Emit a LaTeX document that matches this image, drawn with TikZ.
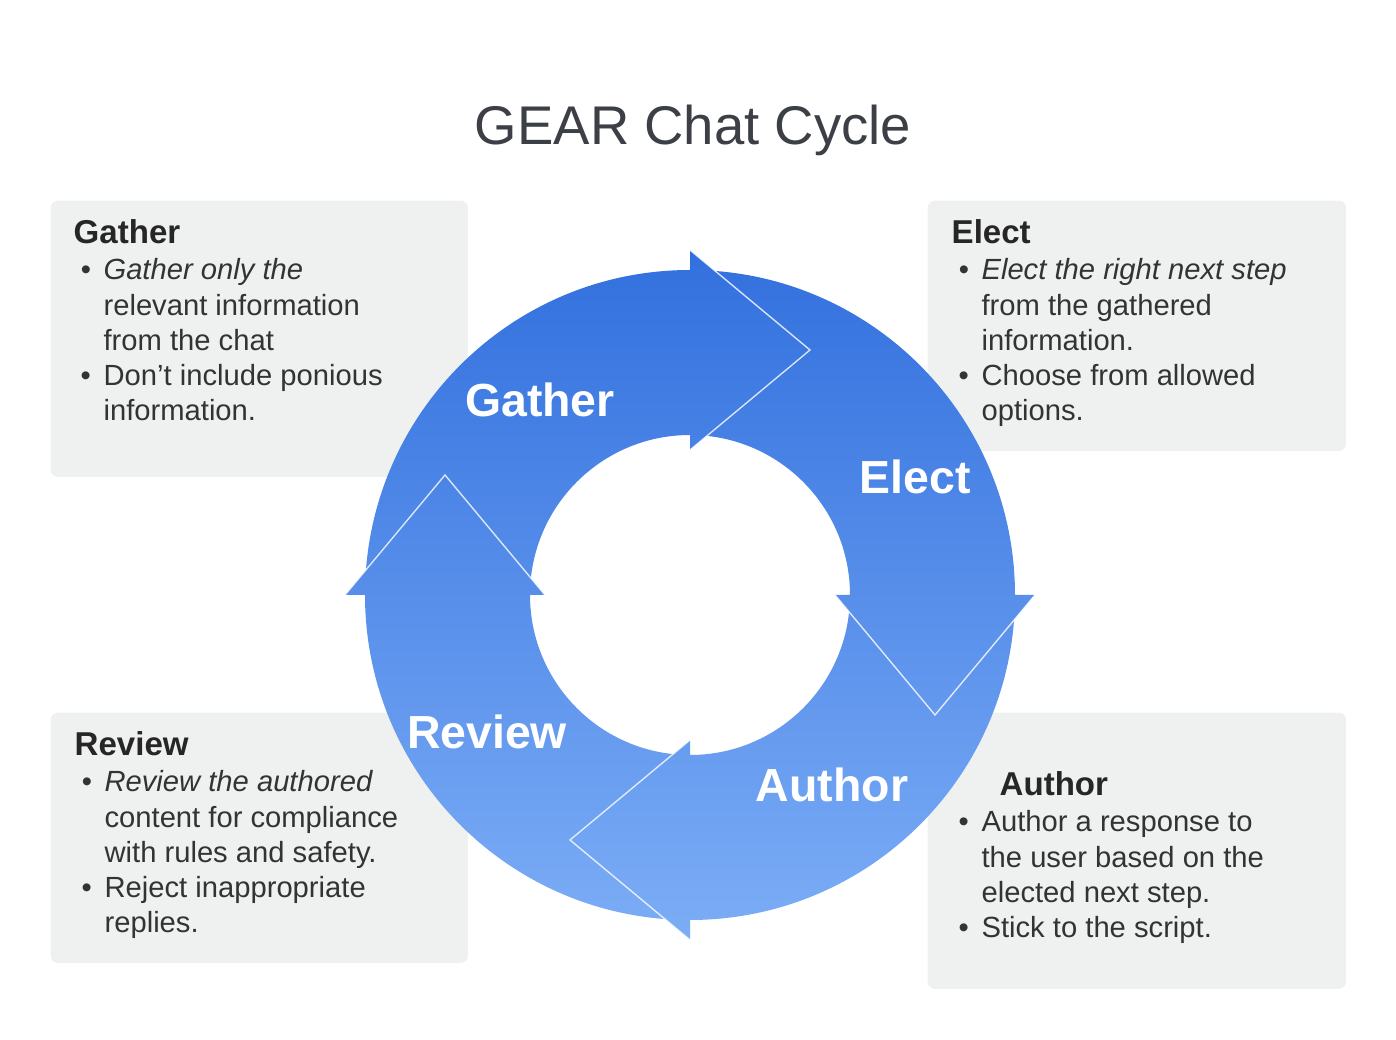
\documentclass[tikz,border=0pt]{standalone}
\usepackage{fontspec}
\setmainfont{Liberation Sans}
\usetikzlibrary{positioning}
\definecolor{ringtop}{RGB}{50, 112, 222}
\definecolor{ringbot}{RGB}{124, 173, 246}
\definecolor{boxgrey}{RGB}{239, 240, 240}
\definecolor{titlegrey}{RGB}{60, 64, 70}
\newcommand{\bl}{\makebox[8.5pt][l]{\hspace{2pt}\textbullet}}
\newcommand{\ind}{\hspace*{8.5pt}}
\begin{document}
\begin{tikzpicture}[x=0.01cm, y=-0.01cm,
    infobox/.style={rectangle, rounded corners=2pt, fill=boxgrey, inner sep=0pt,
                    anchor=north west},
    heading/.style={anchor=base west, inner sep=0pt, text=black!85,
                    font=\fontsize{9.4}{11}\selectfont\bfseries},
    body/.style={anchor=north west, inner sep=0pt, align=left, text=black!80,
                 font=\fontsize{8.3}{10}\selectfont},
    ringlabel/.style={text=white, inner sep=0pt, font=\fontsize{13.2}{15}\selectfont\bfseries},
    edge/.style={white, line width=0.4pt, opacity=0.8}]
    \useasboundingbox (0,0) rectangle (1396,1040);

    % Title
    \node[anchor=base, inner sep=0pt, text=titlegrey, font=\fontsize{15.5}{18}\selectfont]
        (title) at (693,145) {GEAR Chat Cycle};

    % Boxes
    \node[infobox, minimum width=4.17cm, minimum height=2.76cm] (gatherbox) at (50,200) {};
    \node[infobox, minimum width=4.18cm, minimum height=2.50cm] (electbox) at (927,200) {};
    \node[infobox, minimum width=4.17cm, minimum height=2.50cm] (reviewbox) at (50,712) {};
    \node[infobox, minimum width=4.18cm, minimum height=2.76cm] (authorbox) at (927,712) {};

    % Ring with arrowheads
    \shade[top color=ringtop, middle color=ringbot, bottom color=ringbot]
        (1015,595) arc[start angle=0, end angle=360, radius=325]
        (850,595) arc[start angle=360, end angle=0, radius=160]
        (690,250) -- (810,350) -- (690,450) -- cycle
        (1035,595) -- (935,715) -- (835,595) -- cycle
        (690,940) -- (570,840) -- (690,740) -- cycle
        (345,595) -- (445,475) -- (545,595) -- cycle;
    \draw[edge] (690,250) -- (810,350) -- (690,450);
    \draw[edge] (1035,595) -- (935,715) -- (835,595);
    \draw[edge] (690,940) -- (570,840) -- (690,740);
    \draw[edge] (345,595) -- (445,475) -- (545,595);

    % Ring labels
    \node[ringlabel] (gatherlbl) at (540,400) {Gather};
    \node[ringlabel] (electlbl) at (915,477) {Elect};
    \node[ringlabel] (authorlbl) at (832,785) {Author};
    \node[ringlabel] (reviewlbl) at (487,732) {Review};

    % Gather text
    \node[heading] (gatherhd) at (73,244) {Gather};
    \node[body] (gathertxt) at (73,258) {\itshape
        \bl Gather only the\\ \ind relevant information\\ \ind from the chat\\
        \bl Don't include ponious\\ \ind information.};

    % Elect text
    \node[heading] (electhd) at (951,244) {Elect};
    \node[body] (electtxt) at (951,258) {\itshape
        \bl Elect the right next step\\ \ind from the gathered\\ \ind information.\\
        \bl Choose from allowed\\ \ind options.};

    % Review text
    \node[heading] (reviewhd) at (74,756) {Review};
    \node[body] (reviewtxt) at (74,770) {\itshape
        \bl Review the authored\\ \ind content for compliance\\ \ind with rules and safety.\\
        \bl Reject inappropriate\\ \ind replies.};

    % Author text
    \node[heading] (authorhd) at (999,796) {Author};
    \node[body] (authortxt) at (951,810) {
        \bl Author a response to\\ \ind the user based on the\\ \ind elected next step.\\
        \bl Stick to the script.};
\end{tikzpicture}
\end{document}
